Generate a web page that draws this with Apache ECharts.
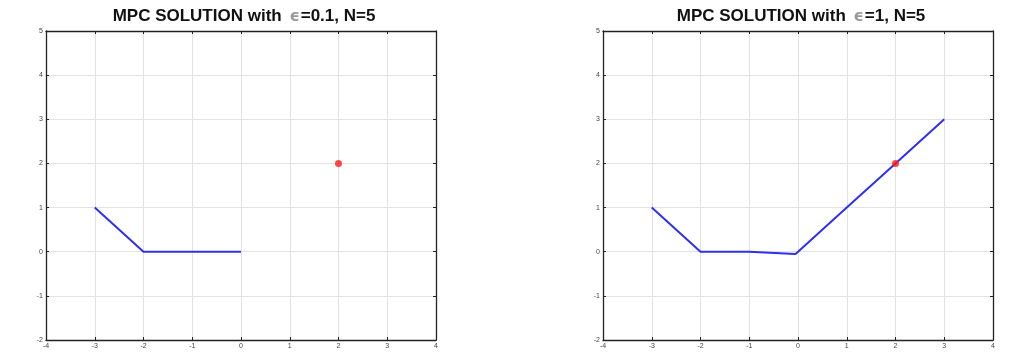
<!DOCTYPE html>
<html>
<head>
<meta charset="utf-8">
<script src="https://cdn.jsdelivr.net/npm/echarts@6/dist/echarts.min.js"></script>
<style>
html,body{margin:0;padding:0;background:#fff;}
#chart{width:1030px;height:358px;}
</style>
</head>
<body>
<div id="chart"></div>
<script>
// MPC solution paths
var left_path = [[-3, 1], [-2, 0], [-1, 0], [0, 0]];
var right_path = [[-3, 1], [-2, 0], [-1, 0], [-0.05, -0.05], [1, 1], [2, 2], [3, 3]];
var target_point = [[2, 2]];
var eps_left = '0.1';
var eps_right = '1';
var n_steps = 5;

var myChart = echarts.init(document.getElementById('chart'));

var grids = [
    {left: 46, top: 31, width: 390, height: 309},
    {left: 603, top: 31, width: 390, height: 309}
];

function make_x(gridIndex, pos, showLabel){
    return {
        type: 'value', gridIndex: gridIndex, position: pos,
        min: -4, max: 4, interval: 1,
        axisLine: {show: true, onZero: false, lineStyle: {color: '#222', width: 1.3}},
        axisTick: {show: true, inside: true, length: 3, lineStyle: {color: '#222'}},
        axisLabel: {show: showLabel, fontSize: 7, color: '#444', margin: 3, fontFamily: 'Liberation Sans'},
        splitLine: {show: showLabel, lineStyle: {color: '#e2e2e2', width: 1}}
    };
}
function make_y(gridIndex, pos, showLabel){
    return {
        type: 'value', gridIndex: gridIndex, position: pos,
        min: -2, max: 5, interval: 1,
        axisLine: {show: true, onZero: false, lineStyle: {color: '#222', width: 1.3}},
        axisTick: {show: true, inside: true, length: 3, lineStyle: {color: '#222'}},
        axisLabel: {show: showLabel, fontSize: 7, color: '#444', margin: 3, fontFamily: 'Liberation Sans'},
        splitLine: {show: showLabel, lineStyle: {color: '#e2e2e2', width: 1}}
    };
}

function make_title(eps, centerX){
    return {
        text: '{b|MPC SOLUTION with }{e|ϵ}{b|=' + eps + ', N=' + n_steps + '}',
        left: centerX, top: 3, textAlign: 'center',
        textStyle: {
            rich: {
                b: {fontSize: 17, fontWeight: 'bold', color: '#111', fontFamily: 'Liberation Sans'},
                e: {fontSize: 16, color: '#999', fontFamily: 'DejaVu Sans', padding: [0, 1, 0, 3]}
            }
        }
    };
}

option = {
    animation: false,
    backgroundColor: '#fff',
    title: [make_title(eps_left, 239), make_title(eps_right, 796)],
    grid: grids,
    xAxis: [make_x(0, 'bottom', true), make_x(0, 'top', false), make_x(1, 'bottom', true), make_x(1, 'top', false)],
    yAxis: [make_y(0, 'left', true), make_y(0, 'right', false), make_y(1, 'left', true), make_y(1, 'right', false)],
    series: [
        {
            type: 'line', xAxisIndex: 0, yAxisIndex: 0, data: left_path,
            showSymbol: false, lineStyle: {color: '#2f2ff0', width: 2}
        },
        {
            type: 'scatter', xAxisIndex: 0, yAxisIndex: 0, data: target_point,
            symbol: 'circle', symbolSize: 7, itemStyle: {color: '#ff1a1a'}
        },
        {
            type: 'line', xAxisIndex: 2, yAxisIndex: 2, data: right_path,
            showSymbol: false, lineStyle: {color: '#2f2ff0', width: 2}
        },
        {
            type: 'scatter', xAxisIndex: 2, yAxisIndex: 2, data: target_point,
            symbol: 'circle', symbolSize: 7, itemStyle: {color: '#ff1a1a'}, z: 5
        }
    ]
};
myChart.setOption(option);
</script>
</body>
</html>
